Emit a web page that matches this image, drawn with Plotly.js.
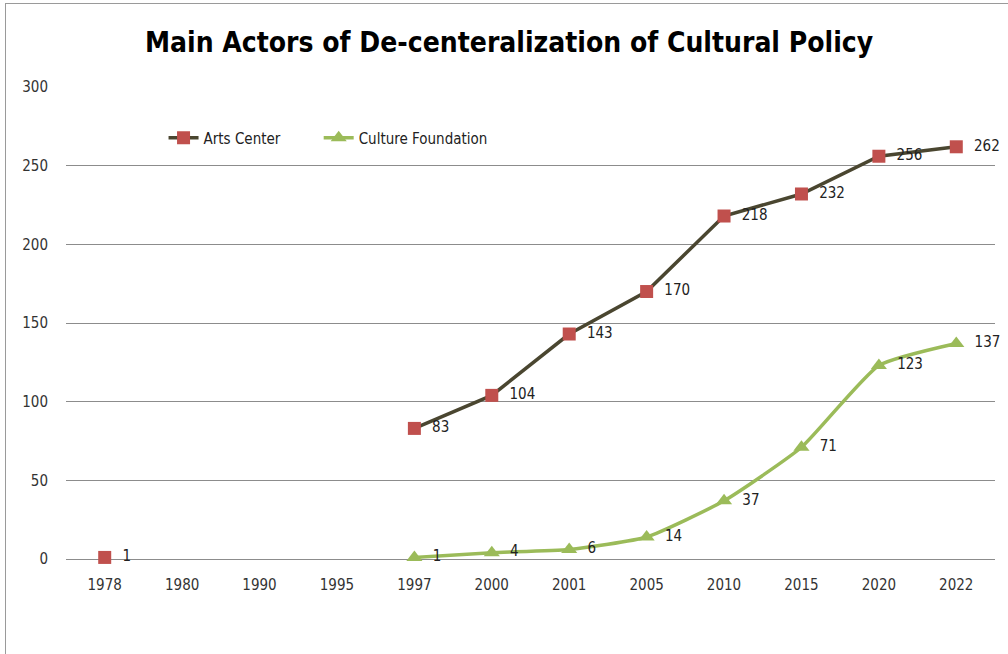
<!DOCTYPE html>
<html><head><meta charset="utf-8">
<script src="https://cdn.plot.ly/plotly-3.0.1.min.js"></script>
<style>
html,body{margin:0;padding:0;background:#fff;}
#chart{width:1008px;height:654px;position:relative;}
#frame{position:absolute;left:5px;top:3px;width:1010px;height:700px;border-left:1px solid #9a9a9a;border-top:1px solid #9a9a9a;pointer-events:none;}
</style></head>
<body>
<div id="chart"></div>
<div id="frame"></div>
<script>
const years = ["1978","1980","1990","1995","1997","2000","2001","2005","2010","2015","2020","2022"];
const artsCenter = [1, null, null, null, 83, 104, 143, 170, 218, 232, 256, 262];
const cultureFoundation = [null, null, null, null, 1, 4, 6, 14, 37, 71, 123, 137];
const yTicks = [0, 50, 100, 150, 200, 250, 300];

const font = "Liberation Sans Narrow, DejaVu Sans Condensed, Arial Narrow, sans-serif";
const lbl = arr => arr.map(v => v === null ? "" : "  " + v);

const traces = [
  {
    name: "Arts Center", x: years, y: artsCenter, type: "scatter", mode: "lines+markers+text",
    text: lbl(artsCenter), textposition: "middle right",
    textfont: {family: font, size: 15, color: "#222"},
    line: {color: "#4a4630", width: 3.5}, connectgaps: false,
    marker: {symbol: "square", size: 13, color: "#c0504d", line: {width: 0}},
    cliponaxis: false, legend: "legend"
  },
  {
    name: "Culture Foundation", x: years, y: cultureFoundation, type: "scatter", mode: "lines+markers+text",
    text: lbl(cultureFoundation), textposition: "middle right",
    textfont: {family: font, size: 15, color: "#222"},
    line: {color: "#9bbb59", width: 3.5, shape: "spline", smoothing: 0.5}, connectgaps: false,
    marker: {symbol: "triangle-up", size: 14, color: "#9bbb59", line: {width: 0}},
    cliponaxis: false, legend: "legend2"
  }
];

const legendStyle = {orientation: "h", y: 0.892, xanchor: "left", yanchor: "middle",
  font: {family: font, size: 15, color: "#222"}, bgcolor: "rgba(0,0,0,0)"};

const layout = {
  width: 1008, height: 654,
  margin: {l: 66, r: 13, t: 87, b: 95},
  paper_bgcolor: "#fff", plot_bgcolor: "#fff",
  title: {text: "<b>Main Actors of De-centeralization of Cultural Policy</b>",
          font: {family: font, size: 28, color: "#000"}, x: 0.505, xanchor: "center", y: 0.935, yanchor: "middle"},
  showlegend: true,
  legend: Object.assign({x: 0.105}, legendStyle),
  legend2: Object.assign({x: 0.272}, legendStyle),
  xaxis: {type: "category", categoryorder: "array", categoryarray: years,
          range: [-0.5, years.length - 0.5], showgrid: false, zeroline: false,
          showline: false, ticks: "", tickfont: {family: font, size: 15, color: "#333"},
          ticklabelstandoff: 15, fixedrange: true},
  yaxis: {range: [0, 300], tickvals: yTicks, ticktext: yTicks.map(String),
          showgrid: true, gridcolor: "#8c8c8c", gridwidth: 1, zeroline: true, zerolinecolor: "#8c8c8c", zerolinewidth: 1,
          showline: false, ticks: "", tickfont: {family: font, size: 15, color: "#333"},
          ticklabelstandoff: 17, fixedrange: true}
};

Plotly.newPlot("chart", traces, layout, {staticPlot: true, displayModeBar: false});
</script>
</body></html>
